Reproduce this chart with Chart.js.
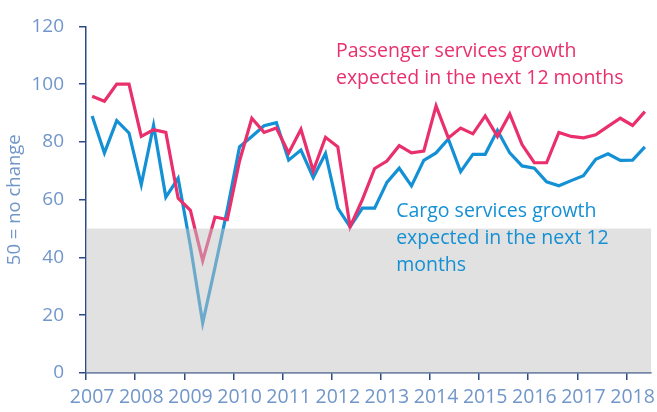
<!DOCTYPE html>
<html>
<head>
<meta charset="utf-8">
<script src="https://cdn.jsdelivr.net/npm/chart.js@4"></script>
<style>
  html, body { margin: 0; padding: 0; background: #fff; }
  #wrap { width: 657px; height: 412px; position: relative; }
</style>
</head>
<body>
<div id="wrap"><canvas id="grafico"></canvas></div>
<script>
// anos e trimestres (2007 T1 ate 2018 T2)
const anos = ['2007', '2008', '2009', '2010', '2011', '2012', '2013', '2014', '2015', '2016', '2017', '2018'];
const trimestres = ['Q1', 'Q2', 'Q3', 'Q4'];

const passageiros = [
    95.8, 94.1, 100, 100, 81.9, 84.2, 83.3, 60.5,
    56.3, 38.9, 54.0, 53.1, 73.4, 88.2, 83.3, 84.8,
    76.2, 84.4, 70.0, 81.6, 78.3, 50.6, 60.0, 70.8,
    73.4, 78.7, 76.2, 76.8, 92.5, 81.4, 84.8, 82.8,
    89.0, 81.9, 89.7, 79.1, 72.8, 72.8, 83.3, 81.9,
    81.4, 82.5, 85.4, 88.2, 85.7, 90.5
];

const carga = [
    89.0, 76.2, 87.4, 83.1, 65.2, 85.7, 60.9, 67.4,
    44.0, 17.3, 36.6, 56.5, 78.3, 81.9, 85.6, 86.7,
    73.7, 77.2, 67.7, 76.0, 57.1, 50.6, 57.1, 57.1,
    66.0, 70.9, 64.8, 73.6, 76.2, 81.0, 69.7, 75.7,
    75.7, 84.0, 76.2, 71.7, 70.9, 66.2, 64.8, 66.6,
    68.3, 74.0, 75.9, 73.6, 73.7, 78.3
];

const limite = 50; // 50 = sem mudanca

const rotulos = [];
anos.forEach(ano => trimestres.forEach(t => rotulos.push(ano + ' ' + t)));
rotulos.length = passageiros.length;

const corRosa = '#E9306C';
const corAzul = '#1490D5';
const corEixo = '#2B4A86';
const corTexto = '#7196C9';
const fonte = 'Open Sans';

// textos das series, ancorados em (indice do trimestre, valor)
const anotacoes = [
    { linhas: ['Passenger services growth', 'expected in the next 12 months'], x: 19.85, y: 109.5, cor: corRosa },
    { linhas: ['Cargo services growth', 'expected in the next 12', 'months'], x: 24.75, y: 54.0, cor: corAzul }
];

// faixa cinza abaixo de 50, desenhada por cima das linhas
const faixaCinza = {
    id: 'faixaCinza',
    afterDatasetsDraw(chart) {
        const { ctx, chartArea, scales } = chart;
        const yTopo = scales.y.getPixelForValue(limite);
        ctx.save();
        ctx.fillStyle = 'rgba(196, 196, 196, 0.5)';
        ctx.fillRect(chartArea.left, yTopo, chartArea.right - chartArea.left, chartArea.bottom - yTopo);
        ctx.restore();
    },
    afterDraw(chart) {
        const { ctx, scales } = chart;
        ctx.save();
        ctx.font = '19.5px "' + fonte + '"';
        ctx.textAlign = 'left';
        ctx.textBaseline = 'alphabetic';
        anotacoes.forEach(a => {
            const x = scales.x.getPixelForValue(a.x);
            const y = scales.y.getPixelForValue(a.y);
            ctx.fillStyle = a.cor;
            a.linhas.forEach((linha, i) => ctx.fillText(linha, x, y + i * 27));
        });
        ctx.restore();
    }
};

const ctx = document.getElementById('grafico');

new Chart(ctx, {
    type: 'line',
    data: {
        labels: rotulos,
        datasets: [
            {
                label: 'Passenger services growth expected in the next 12 months',
                data: passageiros,
                borderColor: corRosa,
                borderWidth: 3.2,
                pointRadius: 0,
                tension: 0,
                fill: false
            },
            {
                label: 'Cargo services growth expected in the next 12 months',
                data: carga,
                borderColor: corAzul,
                borderWidth: 3.2,
                pointRadius: 0,
                tension: 0,
                fill: false
            }
        ]
    },
    options: {
        responsive: true,
        maintainAspectRatio: false,
        animation: false,
        layout: {
            padding: { top: 22, right: 6, left: 0, bottom: 0 }
        },
        scales: {
            x: {
                offset: true,
                grid: {
                    offset: true,
                    drawOnChartArea: false,
                    tickLength: 7,
                    lineWidth: 1.5,
                    color: c => (c.index % 4 === 0 ? corEixo : 'rgba(0,0,0,0)')
                },
                border: { color: corEixo, width: 1.5 },
                ticks: {
                    autoSkip: false,
                    maxRotation: 0,
                    minRotation: 0,
                    padding: 6,
                    color: corTexto,
                    font: { family: fonte, size: 19.5 },
                    callback: (valor, i) => (i % 4 === 0 ? anos[i / 4] : '')
                },
                afterFit: escala => { escala.height = 39; }
            },
            y: {
                min: 0,
                max: 120,
                grid: {
                    drawOnChartArea: false,
                    tickLength: 7,
                    lineWidth: 1.5,
                    color: corEixo
                },
                border: { color: corEixo, width: 1.5 },
                ticks: {
                    stepSize: 20,
                    padding: 15,
                    color: corTexto,
                    font: { family: fonte, size: 19 }
                },
                title: {
                    display: true,
                    text: '50 = no change',
                    color: corTexto,
                    padding: { top: 4, bottom: 0 },
                    font: { family: fonte, size: 18.5 }
                },
                afterFit: escala => { escala.width = 86; }
            }
        },
        plugins: {
            legend: { display: false },
            tooltip: { enabled: false }
        }
    },
    plugins: [faixaCinza]
});
</script>
</body>
</html>
